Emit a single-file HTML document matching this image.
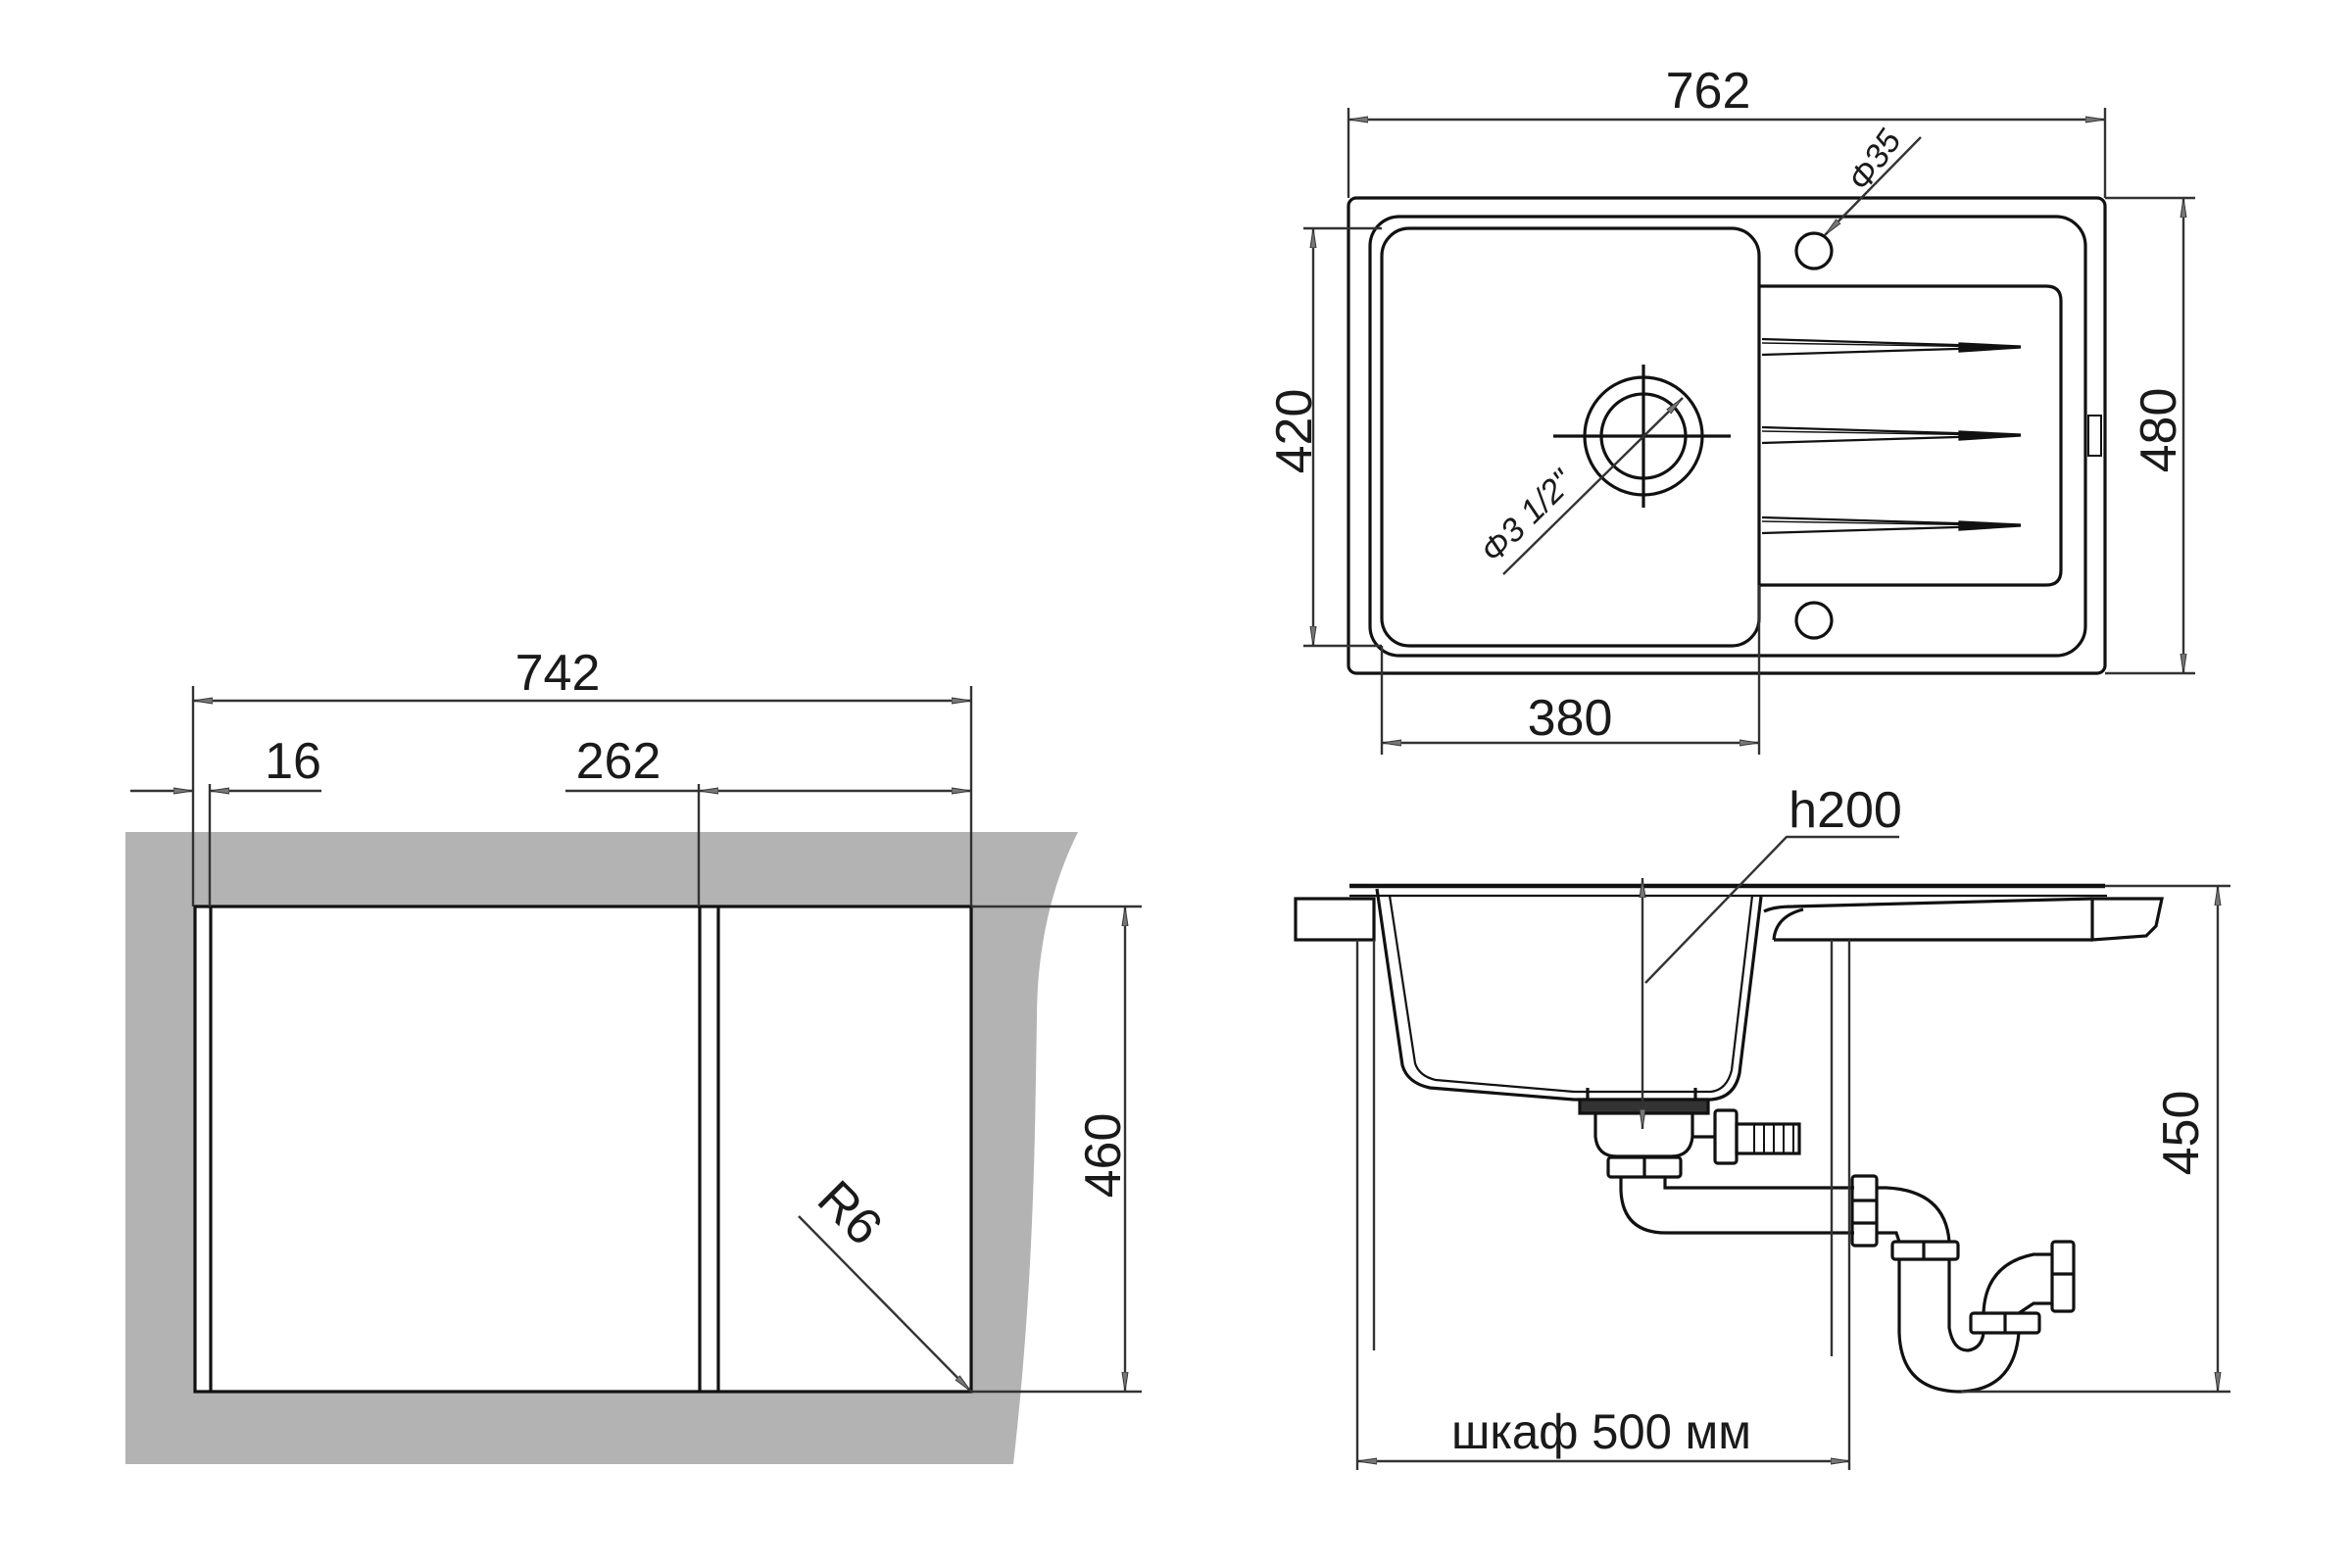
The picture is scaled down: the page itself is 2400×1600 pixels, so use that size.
<!DOCTYPE html>
<html><head><meta charset="utf-8"><style>
html,body{margin:0;padding:0;background:#fff;}
svg{display:block;}
text{font-family:"Liberation Sans","DejaVu Sans",sans-serif;fill:#1a1a1a;}
</style></head><body>
<svg width="2400" height="1600" viewBox="0 0 2400 1600" xmlns="http://www.w3.org/2000/svg">
<defs>
<marker id="a" viewBox="0 0 20 8" refX="20" refY="4" markerWidth="20" markerHeight="8" markerUnits="userSpaceOnUse" orient="auto-start-reverse">
<path d="M0,1 L20,4 L0,7 Z" fill="#777" stroke="#333" stroke-width="1"/></marker>
</defs>
<g fill="none" stroke="#111" stroke-width="3.2">

<!-- LEFT: cutout -->
<path d="M128,849 L1100,849 C1072,905 1058,970 1058,1040 C1056,1150 1056,1300 1034,1494 L128,1494 Z" fill="#b3b3b3" stroke="none"/>
<rect x="199" y="925" width="792" height="495" fill="#fff"/>
<line x1="215" y1="925" x2="215" y2="1420"/>
<line x1="714" y1="925" x2="714" y2="1420"/>
<line x1="733" y1="925" x2="733" y2="1420"/>
<g stroke="#333" stroke-width="2.4">
<line x1="197" y1="700" x2="197" y2="925"/>
<line x1="214" y1="800" x2="214" y2="925"/>
<line x1="713" y1="800" x2="713" y2="925"/>
<line x1="991" y1="700" x2="991" y2="925"/>
<line x1="991" y1="925" x2="1165" y2="925"/>
<line x1="991" y1="1420" x2="1165" y2="1420"/>
<line x1="197" y1="715" x2="991" y2="715" marker-start="url(#a)" marker-end="url(#a)"/>
<line x1="133" y1="807" x2="197" y2="807" marker-end="url(#a)"/>
<line x1="214" y1="807" x2="328" y2="807" marker-start="url(#a)"/>
<line x1="577" y1="807" x2="713" y2="807"/>
<line x1="713" y1="807" x2="991" y2="807" marker-start="url(#a)" marker-end="url(#a)"/>
<line x1="1148" y1="925" x2="1148" y2="1420" marker-start="url(#a)" marker-end="url(#a)"/>
<line x1="815" y1="1241" x2="991" y2="1420" marker-end="url(#a)"/>
</g>

<!-- TOP VIEW -->
<rect x="1376" y="202" width="772" height="485" rx="8"/>
<rect x="1398" y="221" width="730" height="448" rx="30"/>
<rect x="1410" y="233" width="385" height="426" rx="28"/>
<path d="M1795,292 L2088,292 Q2103,292 2103,307 L2103,582 Q2103,597 2088,597 L1795,597"/>
<circle cx="1851" cy="256" r="18"/>
<circle cx="1851" cy="633" r="18"/>
<circle cx="1677" cy="445" r="60"/>
<circle cx="1677" cy="445" r="43"/>
<line x1="1585" y1="445" x2="1766" y2="445"/>
<line x1="1677" y1="372" x2="1677" y2="518"/>
<rect x="2131" y="424" width="13" height="41" stroke-width="2"/>
<g stroke-width="2.2">
<path d="M1798,346 L2062,354 L1798,362"/><path d="M1798,350 L2040,354" stroke-width="1.5"/>
<path d="M1798,436 L2062,444 L1798,452"/><path d="M1798,440 L2040,444" stroke-width="1.5"/>
<path d="M1798,528 L2062,536 L1798,544"/><path d="M1798,532 L2040,536" stroke-width="1.5"/>
</g>
<path d="M2000,351 L2062,354 L2000,358 Z M2000,441 L2062,444 L2000,448 Z M2000,533 L2062,536 L2000,540 Z" fill="#111"/>
<g stroke="#333" stroke-width="2.4">
<line x1="1376" y1="110" x2="1376" y2="202"/>
<line x1="2148" y1="110" x2="2148" y2="202"/>
<line x1="1376" y1="122" x2="2148" y2="122" marker-start="url(#a)" marker-end="url(#a)"/>
<line x1="2148" y1="202" x2="2240" y2="202"/>
<line x1="2148" y1="687" x2="2240" y2="687"/>
<line x1="2228" y1="202" x2="2228" y2="687" marker-start="url(#a)" marker-end="url(#a)"/>
<line x1="1330" y1="233" x2="1410" y2="233"/>
<line x1="1330" y1="659" x2="1410" y2="659"/>
<line x1="1340" y1="233" x2="1340" y2="659" marker-start="url(#a)" marker-end="url(#a)"/>
<line x1="1410" y1="659" x2="1410" y2="770"/>
<line x1="1795" y1="597" x2="1795" y2="770"/>
<line x1="1410" y1="758" x2="1795" y2="758" marker-start="url(#a)" marker-end="url(#a)"/>
<line x1="1534" y1="586" x2="1717" y2="406" marker-end="url(#a)"/>
<line x1="1960" y1="140" x2="1862" y2="240" marker-end="url(#a)"/>
</g>

<!-- SIDE VIEW -->
<line x1="1377" y1="904" x2="2148" y2="904" stroke-width="4.5"/>
<line x1="2148" y1="904" x2="2276" y2="904" stroke="#333" stroke-width="2.4"/>
<line x1="1377" y1="914" x2="2150" y2="914" stroke-width="2.2"/>
<rect x="1322" y="917" width="80" height="42"/>
<path d="M2135,917 L2206,917 L2200,945 L2190,955 L2135,959 Z"/>
<line x1="1810" y1="959" x2="2135" y2="959"/>
<path d="M1800,930 Q1810,925 1830,925 L2135,917"/>
<path d="M1810,959 Q1812,935 1840,928"/>
<path d="M1405,907 L1431,1087 Q1436,1105 1459,1110 L1606,1122 L1746,1122 Q1770,1120 1775,1095 L1797,915"/>
<path d="M1418,914 L1444,1085 Q1448,1098 1465,1102 L1606,1114 L1746,1114 Q1762,1112 1767,1092 L1788,914" stroke-width="2.2"/>
<path d="M1620,1110 L1620,1122 M1730,1110 L1730,1122"/>
<rect x="1612" y="1122" width="131" height="14" fill="#333"/>
<path d="M1628,1137 L1628,1160 Q1630,1180 1650,1180 L1705,1180 Q1725,1180 1727,1160 L1727,1137"/>
<rect x="1641" y="1181" width="74" height="20" rx="3"/>
<line x1="1678" y1="1181" x2="1678" y2="1201"/>
<rect x="1750" y="1133" width="22" height="54" rx="3"/>
<rect x="1772" y="1147" width="64" height="30"/>
<path d="M1790,1147 V1177 M1800,1147 V1177 M1810,1147 V1177 M1820,1147 V1177 M1830,1147 V1177" stroke-width="2"/>
<line x1="1727" y1="1160" x2="1750" y2="1160"/>
<path d="M1654,1201 L1654,1215 Q1656,1258 1700,1258 L1892,1258"/>
<path d="M1699,1201 L1699,1212 L1892,1212"/>
<rect x="1890" y="1200" width="25" height="71" rx="3"/>
<line x1="1890" y1="1225" x2="1915" y2="1225"/>
<line x1="1890" y1="1248" x2="1915" y2="1248"/>
<path d="M1915,1212 L1925,1212 Q1985,1215 1989,1267"/>
<path d="M1915,1258 L1935,1258 L1938,1267"/>
<rect x="1931" y="1267" width="67" height="18" rx="3"/>
<line x1="1963" y1="1267" x2="1963" y2="1285"/>
<path d="M1938,1285 L1938,1360 Q1940,1420 2001,1420 Q2055,1418 2060,1360"/>
<path d="M1989,1285 L1989,1355 Q1993,1378 2008,1378 Q2022,1376 2024,1360"/>
<rect x="2011" y="1340" width="70" height="20" rx="3"/>
<line x1="2046" y1="1340" x2="2046" y2="1360"/>
<path d="M2024,1340 Q2026,1290 2075,1280 L2094,1280"/>
<path d="M2060,1340 L2075,1330 L2094,1330"/>
<rect x="2094" y="1267" width="22" height="71" rx="3"/>
<line x1="2094" y1="1300" x2="2116" y2="1300"/>
<g stroke="#333" stroke-width="2.4">
<line x1="1385" y1="959" x2="1385" y2="1500"/>
<line x1="1402" y1="959" x2="1402" y2="1378"/>
<line x1="1869" y1="959" x2="1869" y2="1384"/>
<line x1="1887" y1="959" x2="1887" y2="1500"/>
<line x1="1385" y1="1491" x2="1888" y2="1491" marker-start="url(#a)" marker-end="url(#a)"/>
<line x1="2001" y1="1420" x2="2276" y2="1420"/>
<line x1="2263" y1="904" x2="2263" y2="1420" marker-start="url(#a)" marker-end="url(#a)"/>
<line x1="1676" y1="896" x2="1676" y2="1152" marker-start="url(#a)" marker-end="url(#a)"/>
<polyline points="1679,1003 1823,854 1938,854"/>
</g>
</g>

<g font-size="52">
<text x="569" y="704" text-anchor="middle">742</text>
<text x="299" y="794" text-anchor="middle">16</text>
<text x="631" y="794" text-anchor="middle">262</text>
<text transform="translate(1143,1179) rotate(-90)" text-anchor="middle">460</text>
<text transform="translate(855,1250) rotate(45)" text-anchor="middle">R6</text>
<text x="1743" y="110" text-anchor="middle">762</text>
<text transform="translate(2220,439) rotate(-90)" text-anchor="middle">480</text>
<text transform="translate(1338,440) rotate(-90)" text-anchor="middle">420</text>
<text x="1602" y="750" text-anchor="middle">380</text>
<text x="1883" y="844" text-anchor="middle">h200</text>
<text transform="translate(2243,1156) rotate(-90)" text-anchor="middle">450</text>
<text x="1481" y="1478" textLength="306" lengthAdjust="spacingAndGlyphs" font-size="50">шкаф 500 мм</text>
</g>
<text transform="translate(1566,535) rotate(-45)" text-anchor="middle" font-size="34" font-style="italic">Φ3 1/2"</text>
<text transform="translate(1922,170) rotate(-55)" text-anchor="middle" font-size="34" font-style="italic">Φ35</text>
</svg>
</body></html>
